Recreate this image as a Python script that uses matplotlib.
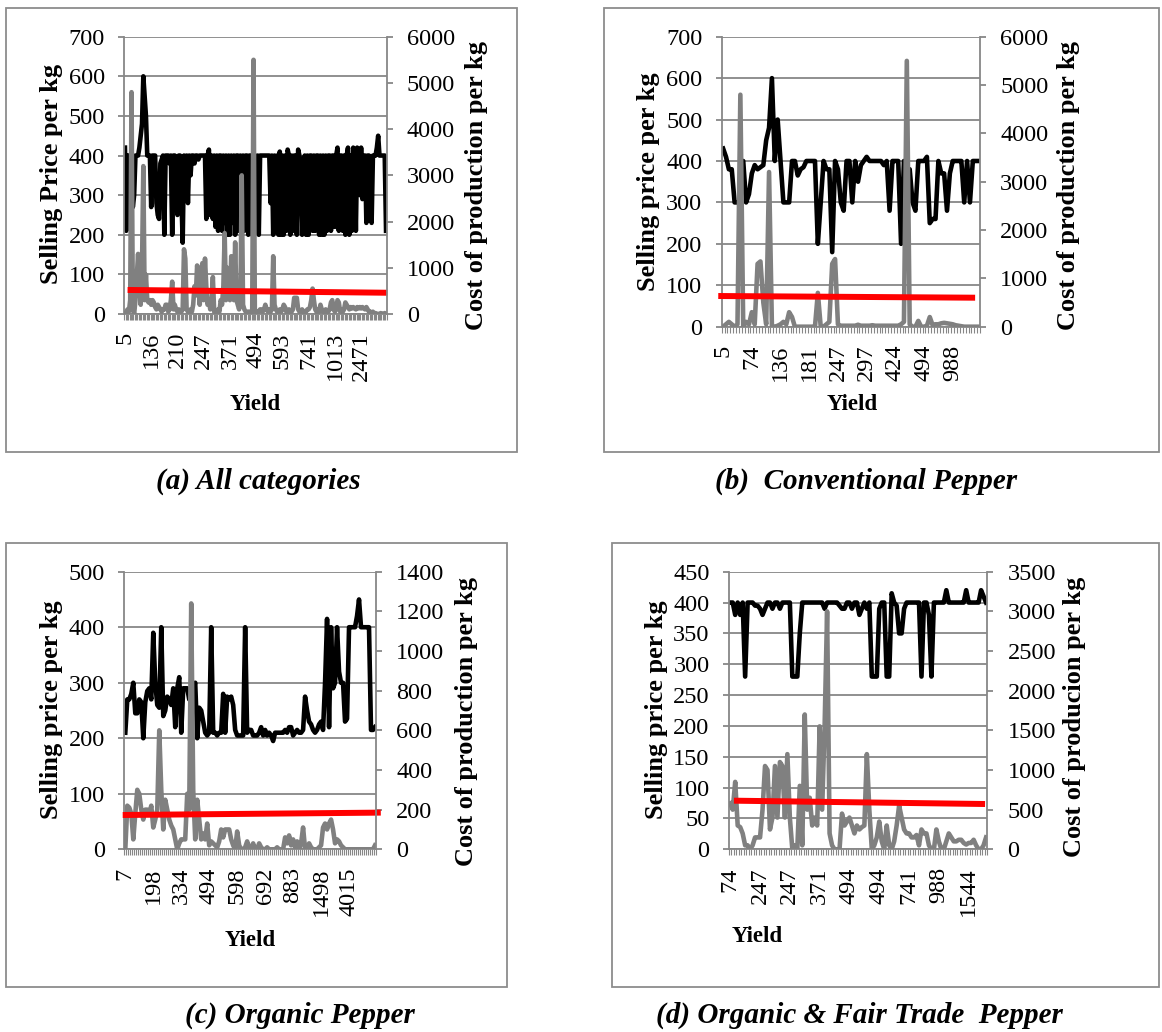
import numpy as np
import matplotlib
matplotlib.use('Agg')
import matplotlib.pyplot as plt
from matplotlib.patches import Rectangle

plt.rcParams['font.family'] = ['Liberation Serif', 'DejaVu Serif']

# ---------------- data ----------------
# (a) all categories
price_a = [420, 210, 400, 400, 300, 400, 270, 300, 400, 400,
           400, 420, 450, 480, 600, 550, 500, 400, 400, 400,
           270, 400, 400, 400, 280, 250, 240, 380, 390, 400,
           200, 400, 400, 400, 380, 400, 200, 400, 400, 300,
           250, 400, 400, 300, 180, 400, 300, 400, 280, 400,
           350, 400, 400, 380, 400, 400, 390, 400, 400, 400,
           400, 400, 240, 400, 415, 250, 400, 240, 400, 220,
           400, 210, 400, 400, 210, 400, 230, 400, 200, 400,
           200, 400, 230, 400, 200, 400, 400, 210, 400, 350,
           400, 210, 400, 400, 200, 400, 400, 200, 400, 400,
           280, 400, 200, 400, 400, 400, 400, 400, 400, 400,
           400, 280, 400, 200, 400, 210, 400, 200, 410, 200,
           400, 200, 400, 210, 415, 400, 200, 400, 210, 400,
           400, 200, 415, 400, 380, 200, 380, 400, 200, 400,
           200, 400, 400, 210, 400, 210, 400, 400, 200, 400,
           200, 400, 200, 400, 210, 400, 400, 210, 400, 400,
           220, 400, 420, 210, 400, 400, 210, 400, 200, 400,
           420, 200, 400, 210, 420, 400, 210, 420, 400, 300,
           420, 290, 400, 400, 230, 400, 400, 300, 230, 400,
           400, 400, 420, 450, 400, 400, 400, 400, 400, 210]
cost_a = [0, 50, 100, 50, 300, 4800, 100, 0, 300, 800,
          1300, 600, 200, 1000, 3200, 300, 850, 300, 250, 300,
          200, 300, 250, 150, 100, 200, 150, 100, 50, 100,
          100, 200, 200, 50, 100, 300, 700, 100, 200, 100,
          50, 100, 50, 50, 100, 1400, 1200, 100, 50, 0,
          100, 50, 200, 600, 400, 1050, 800, 200, 900, 1100,
          300, 1200, 600, 200, 300, 100, 300, 800, 50, 50,
          50, 100, 50, 300, 200, 600, 1750, 300, 1000, 400,
          300, 1250, 800, 300, 1550, 300, 200, 100, 300, 3000,
          200, 100, 50, 50, 50, 50, 50, 50, 5500, 50,
          0, 50, 50, 100, 100, 50, 100, 200, 100, 50,
          100, 50, 100, 1250, 200, 100, 50, 50, 100, 50,
          100, 200, 150, 50, 50, 100, 50, 50, 100, 350,
          350, 350, 100, 50, 50, 100, 50, 50, 50, 100,
          100, 150, 300, 550, 300, 100, 50, 100, 50, 200,
          100, 50, 50, 100, 50, 50, 100, 250, 300, 100,
          50, 100, 300, 250, 50, 100, 50, 100, 250, 200,
          150, 100, 150, 120, 150, 120, 100, 150, 120, 150,
          120, 150, 120, 100, 150, 100, 50, 50, 20, 50,
          0, 20, 0, 0, 0, 20, 0, 0, 20, 0]
trend_a = [520, 460]
labels_a = ['5', '136', '210', '247', '371', '494', '593', '741', '1013', '2471']

# (b) conventional pepper
price_b = [430, 410, 380, 380, 300, 300, 300, 400, 300, 320,
           370, 390, 380, 385, 390, 450, 480, 600, 400, 500,
           400, 300, 300, 300, 400, 400, 365, 380, 385, 400,
           400, 400, 400, 200, 300, 400, 380, 380, 180, 400,
           380, 300, 280, 400, 400, 300, 400, 350, 390, 400,
           410, 400, 400, 400, 400, 400, 390, 400, 280, 400,
           400, 400, 200, 400, 380, 380, 300, 280, 400, 400,
           400, 410, 250, 260, 260, 400, 370, 370, 280, 370,
           400, 400, 400, 400, 300, 400, 300, 400, 400, 400]
cost_b = [0, 50, 100, 50, 0, 50, 4800, 0, 100, 50,
          300, 50, 1300, 1350, 500, 50, 3200, 0, 0, 20,
          50, 100, 50, 300, 200, 0, 0, 0, 0, 0,
          0, 0, 0, 700, 0, 0, 50, 100, 1300, 1400,
          50, 20, 20, 20, 20, 20, 20, 40, 20, 20,
          20, 20, 30, 20, 20, 20, 20, 20, 20, 20,
          20, 20, 50, 100, 5500, 50, 0, 0, 120, 0,
          0, 20, 200, 30, 50, 50, 70, 80, 70, 60,
          50, 30, 20, 10, 0, 0, 0, 0, 0, 0]
trend_b = [635, 600]
labels_b = ['5', '74', '136', '181', '247', '297', '424', '494', '988']

# (c) organic pepper
price_c = [210, 270, 270, 280, 300, 245, 245, 270, 265, 200,
           265, 285, 290, 270, 390, 300, 260, 255, 400, 240,
           250, 275, 270, 260, 290, 220, 290, 310, 210, 290,
           290, 290, 270, 290, 290, 300, 200, 255, 250, 230,
           210, 205, 210, 400, 210, 210, 205, 210, 210, 280,
           210, 275, 270, 275, 260, 215, 205, 205, 205, 205,
           400, 210, 215, 215, 205, 205, 205, 210, 220, 205,
           215, 205, 210, 205, 195, 210, 210, 210, 210, 210,
           215, 210, 220, 220, 205, 210, 215, 210, 210, 215,
           275, 250, 230, 225, 215, 210, 215, 225, 230, 215,
           300, 415, 220, 400, 290, 300, 400, 320, 300, 300,
           230, 235, 400, 400, 400, 400, 420, 450, 400, 400,
           400, 400, 400, 215, 215, 220]
cost_c = [0, 220, 210, 180, 50, 180, 300, 280, 200, 150,
          200, 200, 180, 220, 110, 150, 200, 600, 300, 100,
          250, 200, 150, 120, 100, 50, 0, 30, 50, 50,
          50, 280, 200, 1240, 300, 50, 250, 150, 50, 80,
          50, 130, 20, 40, 30, 20, 10, 40, 100, 60,
          100, 100, 100, 50, 20, 0, 90, 20, 0, 0,
          10, 40, 10, 0, 30, 0, 0, 30, 10, 0,
          0, 10, 0, 0, 0, 0, 10, 0, 0, 0,
          60, 30, 70, 20, 50, 10, 40, 0, 30, 110,
          0, 0, 30, 10, 0, 0, 0, 10, 20, 110,
          130, 100, 130, 150, 100, 30, 50, 40, 20, 10,
          0, 0, 0, 0, 0, 0, 0, 0, 0, 0,
          0, 0, 0, 0, 0, 20]
trend_c = [173, 185]
labels_c = ['7', '198', '334', '494', '598', '692', '883', '1498', '4015']

# (d) organic & fair trade pepper
price_d = [400, 400, 380, 400, 380, 400, 280, 400, 400, 400,
           395, 395, 390, 380, 390, 400, 400, 390, 400, 400,
           390, 400, 400, 400, 400, 280, 280, 280, 350, 400,
           400, 400, 400, 400, 400, 400, 400, 400, 390, 400,
           400, 400, 400, 400, 395, 390, 390, 400, 400, 390,
           400, 400, 380, 390, 400, 390, 400, 280, 280, 280,
           390, 400, 400, 280, 280, 415, 400, 395, 350, 350,
           390, 400, 400, 400, 400, 400, 400, 280, 400, 400,
           380, 280, 400, 400, 400, 400, 400, 420, 400, 400,
           400, 400, 400, 400, 400, 420, 400, 400, 400, 400,
           400, 420, 410, 400]
cost_d = [580, 500, 850, 300, 280, 200, 50, 50, 0, 50,
          150, 150, 150, 500, 1050, 1000, 250, 400, 1050, 400,
          1100, 1050, 400, 1200, 400, 0, 50, 0, 800, 50,
          1700, 500, 650, 300, 400, 300, 1550, 500, 1550, 3000,
          200, 50, 0, 0, 0, 450, 300, 350, 400, 300,
          200, 300, 250, 280, 300, 1200, 500, 0, 50, 150,
          350, 100, 0, 300, 50, 0, 100, 300, 550, 400,
          250, 200, 200, 150, 150, 180, 50, 250, 200, 200,
          50, 0, 0, 250, 100, 0, 0, 100, 200, 150,
          100, 100, 120, 120, 80, 60, 80, 80, 120, 50,
          0, 0, 50, 150]
trend_d = [613, 571]
labels_d = ['74', '247', '247', '371', '494', '494', '741', '988', '1544']

# ---------------- layout ----------------
W, H = 1162, 1032
GRID = '#878787'
BOX = '#8c8c8c'
TICK_FS = 17.5


def fx(x):
    return x / W


def fy(y):
    return 1 - y / H


def panel(fig, plot_px, price, cost, trend, trend_span, labels, step,
          ymax, ystep, ymax2, ystep2):
    l, t, r, b = plot_px
    ax = fig.add_axes([fx(l), fy(b), (r - l) / W, (b - t) / H])
    n = len(price)
    x = np.arange(n)
    ax.plot(x, price, color='black', lw=3.3)
    ax.set_xlim(-0.5, n - 0.5)
    ax.set_ylim(0, ymax)
    ax.set_yticks(np.arange(0, ymax + 1, ystep))
    ax.yaxis.grid(True, color=GRID, lw=1.3)
    ax.set_axisbelow(True)
    for s in ['top', 'right']:
        ax.spines[s].set_visible(False)
    for s in ['left', 'bottom']:
        ax.spines[s].set_color(GRID)
        ax.spines[s].set_linewidth(1.3)
    ax.tick_params(axis='y', direction='out', length=4.5, width=1.3,
                   color=GRID, labelsize=TICK_FS, pad=9.5)
    ax.set_xticks(np.arange(0, n, step))
    ax.set_xticklabels(labels)
    ax.set_xticks(np.arange(-0.5, n, 1), minor=True)
    ax.tick_params(axis='x', which='major', length=0, pad=13,
                   labelsize=TICK_FS, labelrotation=90)
    ax.tick_params(axis='x', which='minor', direction='out', length=4.5,
                   width=0.8, color=GRID)

    ax2 = ax.twinx()
    ax2.plot(x, cost, color='#808080', lw=3.3)
    ax2.plot(trend_span, trend, color='red', lw=4.3,
             solid_capstyle='butt', clip_on=False)
    ax2.set_ylim(0, ymax2)
    ax2.set_yticks(np.arange(0, ymax2 + 1, ystep2))
    for s in ['top', 'left', 'bottom']:
        ax2.spines[s].set_visible(False)
    ax2.spines['right'].set_color(GRID)
    ax2.spines['right'].set_linewidth(1.3)
    ax2.tick_params(axis='y', direction='out', length=4.5, width=1.3,
                    color=GRID, labelsize=TICK_FS, pad=10)
    return ax, ax2


fig = plt.figure(figsize=(W / 100, H / 100), dpi=100)

# frames around each chart
for (l, t, r, b) in [(6, 8, 517, 452), (604, 8, 1159, 452),
                     (6, 543, 507, 987), (612, 543, 1159, 987)]:
    fig.add_artist(Rectangle((fx(l), fy(b)), (r - l) / W, (b - t) / H,
                             transform=fig.transFigure, fill=False,
                             ec=BOX, lw=1.3))

na, nb, nc, nd = len(price_a), len(price_b), len(price_c), len(price_d)
panel(fig, (124.3, 36.7, 386.7, 314), price_a, cost_a, trend_a,
      [2, na], labels_a, 20, 700, 100, 6000, 1000)
panel(fig, (721.7, 36.7, 980, 326.7), price_b, cost_b, trend_b,
      [-1.7, nb - 2.2], labels_b, 10, 700, 100, 6000, 1000)
panel(fig, (124.3, 571.7, 376, 849.3), price_c, cost_c, trend_c,
      [-1.3, nc + 1.9], labels_c, 14, 500, 100, 1400, 200)
panel(fig, (729, 571.7, 987.3, 849.3), price_d, cost_d, trend_d,
      [1.5, nd - 1.4], labels_d, 12, 450, 50, 3500, 500)

lab = dict(rotation=90, ha='center', va='center', fontsize=19,
           fontweight='bold')
fig.text(fx(52), fy(174), 'Selling Price per kg', **lab)
fig.text(fx(477), fy(186), 'Cost of production per kg', **lab)
fig.text(fx(648), fy(182), 'Selling price per kg', **lab)
fig.text(fx(1068), fy(186), 'Cost of production per kg', **lab)
fig.text(fx(52), fy(710), 'Selling price per kg', **lab)
fig.text(fx(467), fy(722), 'Cost of production per kg', **lab)
fig.text(fx(657), fy(710), 'Selling price per kg', **lab)
fig.text(fx(1075), fy(717), 'Cost of producion per kg', **lab)

yl = dict(ha='center', va='center', fontsize=16.5, fontweight='bold')
fig.text(fx(255), fy(405), 'Yield', **yl)
fig.text(fx(852), fy(405), 'Yield', **yl)
fig.text(fx(250), fy(940), 'Yield', **yl)
fig.text(fx(757), fy(937), 'Yield', **yl)

cap = dict(ha='center', va='center', fontsize=21, fontweight='bold',
           style='italic')
fig.text(fx(258), fy(481), '(a) All categories', **cap)
fig.text(fx(866), fy(481), '(b)  Conventional Pepper', **cap)
fig.text(fx(300), fy(1015), '(c) Organic Pepper', **cap)
fig.text(fx(859), fy(1015), '(d) Organic & Fair Trade  Pepper', **cap)

fig.savefig('out.png', dpi=100)
